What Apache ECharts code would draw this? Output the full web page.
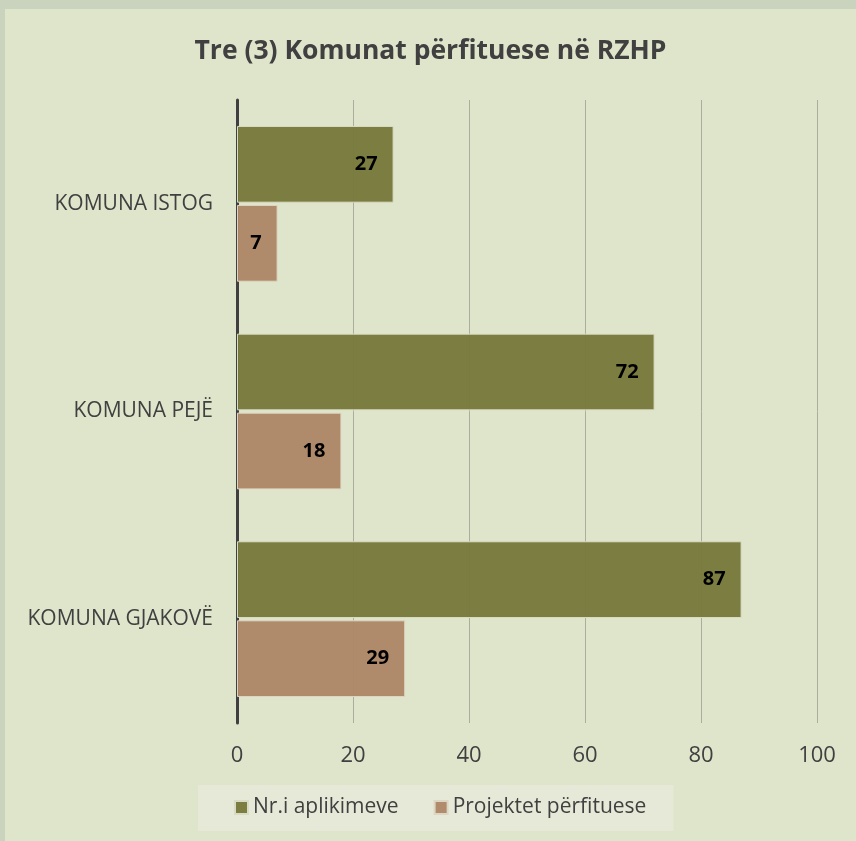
<!DOCTYPE html>
<html>
<head>
<meta charset="utf-8">
<script src="https://cdn.jsdelivr.net/npm/echarts@6/dist/echarts.min.js"></script>
<style>
  html, body { margin: 0; padding: 0; background: #c9d3bd; }
  #chart { position: absolute; left: 5px; top: 9px; width: 851px; height: 832px; }
</style>
</head>
<body>
<div id="chart"></div>
<script>
const categories = ['KOMUNA ISTOG', 'KOMUNA PEJË', 'KOMUNA GJAKOVË'];
const seriesNames = ['Nr.i aplikimeve', 'Projektet përfituese'];
const aplikimeve = [27, 72, 87];
const perfituese = [7, 18, 29];
const xTicks = [0, 20, 40, 60, 80, 100];

const FONT = '"Open Sans", "Noto Sans", sans-serif';
const TEXT = '#404040';

const chart = echarts.init(document.getElementById('chart'));

const barLabel = {
    show: true,
    position: 'insideRight',
    distance: 16,
    color: '#000',
    fontFamily: FONT,
    fontWeight: 'bold',
    fontSize: 20
};

chart.setOption({
    backgroundColor: '#dfe5cb',
    animation: false,
    title: {
        text: 'Tre (3) Komunat përfituese në RZHP',
        left: 'center',
        top: 24,
        textStyle: { color: TEXT, fontFamily: FONT, fontWeight: 'bold', fontSize: 26.5 }
    },
    legend: {
        data: seriesNames,
        left: 193,
        top: 776,
        padding: [12, 27, 13, 36],
        itemGap: 35,
        itemWidth: 13,
        itemHeight: 13,
        icon: 'rect',
        backgroundColor: '#e6e9d8',
        textStyle: { color: TEXT, fontFamily: FONT, fontSize: 21 }
    },
    grid: { left: 232, right: 39, top: 91, bottom: 118 },
    xAxis: {
        type: 'value',
        min: xTicks[0],
        max: xTicks[xTicks.length - 1],
        interval: 20,
        axisLine: { show: false },
        axisTick: { show: false },
        splitLine: { show: true, lineStyle: { color: '#a9ae9f', width: 1 } },
        axisLabel: { color: TEXT, fontFamily: FONT, fontSize: 22, margin: 22 }
    },
    yAxis: {
        type: 'category',
        inverse: true,
        data: categories,
        axisLine: { show: true, lineStyle: { color: '#404040', width: 3 } },
        axisTick: { show: false },
        axisLabel: { color: TEXT, fontFamily: FONT, fontSize: 21, margin: 24 }
    },
    series: [
        {
            name: seriesNames[0],
            type: 'bar',
            data: aplikimeve,
            barCategoryGap: '25%',
            barGap: '3%',
            itemStyle: { color: 'rgba(120,121,58,0.96)', borderColor: '#d9dcc4', borderWidth: 1 },
            label: barLabel
        },
        {
            name: seriesNames[1],
            type: 'bar',
            data: perfituese,
            itemStyle: { color: 'rgba(174,135,103,0.96)', borderColor: '#ddd6c2', borderWidth: 1 },
            label: barLabel
        }
    ]
});
</script>
</body>
</html>
